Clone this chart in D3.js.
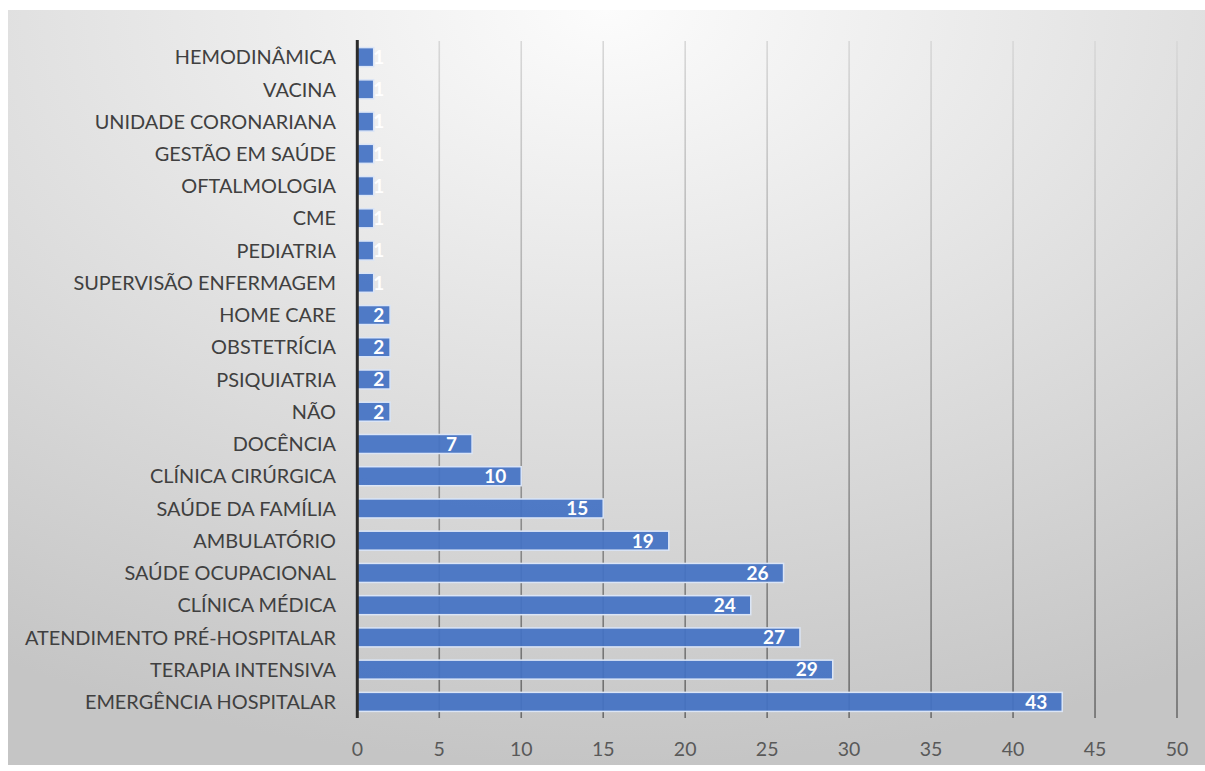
<!DOCTYPE html>
<html>
<head>
<meta charset="utf-8">
<script src="https://cdn.jsdelivr.net/npm/d3@7"></script>
<style>
  html, body { margin: 0; padding: 0; background: #ffffff; }
  svg { display: block; }
</style>
</head>
<body>
<svg id="chart" width="1205" height="771"></svg>
<script>
// Áreas de atuação (de cima para baixo) e número de respostas
const categories = [
  "HEMODINÂMICA", "VACINA", "UNIDADE CORONARIANA", "GESTÃO EM SAÚDE",
  "OFTALMOLOGIA", "CME", "PEDIATRIA", "SUPERVISÃO ENFERMAGEM",
  "HOME CARE", "OBSTETRÍCIA", "PSIQUIATRIA", "NÃO", "DOCÊNCIA",
  "CLÍNICA CIRÚRGICA", "SAÚDE DA FAMÍLIA", "AMBULATÓRIO",
  "SAÚDE OCUPACIONAL", "CLÍNICA MÉDICA", "ATENDIMENTO PRÉ-HOSPITALAR",
  "TERAPIA INTENSIVA", "EMERGÊNCIA HOSPITALAR"
];
const counts = [1, 1, 1, 1, 1, 1, 1, 1, 2, 2, 2, 2, 7, 10, 15, 19, 26, 24, 27, 29, 43];
const xTicks = [0, 5, 10, 15, 20, 25, 30, 35, 40, 45, 50];

const svg = d3.select("#chart");
const W = 1205, H = 771;
const panel = { x: 8, y: 10, w: W - 8, h: 755 };
const plot = { left: 357.3, right: 1177, top: 41, bottom: 718 };
const font = "Lato, 'Open Sans', sans-serif";

const defs = svg.append("defs");

// soft radial background, bright at the top centre
const bg = defs.append("radialGradient")
  .attr("id", "bgGrad").attr("cx", "50%").attr("cy", "0%").attr("r", "100%")
  .attr("fx", "50%").attr("fy", "0%");
bg.append("stop").attr("offset", "0").attr("stop-color", "#fcfcfc");
bg.append("stop").attr("offset", "0.45").attr("stop-color", "#e3e3e3");
bg.append("stop").attr("offset", "1").attr("stop-color", "#c5c5c5");

// gridlines fade toward the top
const gg = defs.append("linearGradient")
  .attr("id", "gridGrad").attr("gradientUnits", "userSpaceOnUse")
  .attr("x1", 0).attr("y1", plot.top).attr("x2", 0).attr("y2", plot.bottom);
gg.append("stop").attr("offset", "0").attr("stop-color", "#d8d8d8");
gg.append("stop").attr("offset", "1").attr("stop-color", "#6c6c6c");

svg.append("rect")
  .attr("x", panel.x).attr("y", panel.y)
  .attr("width", panel.w).attr("height", panel.h)
  .attr("fill", "url(#bgGrad)");

const x = d3.scaleLinear().domain([0, 50]).range([plot.left, plot.right]);
const y = d3.scaleBand().domain(categories)
  .range([plot.top, plot.bottom]).paddingInner(0.41).paddingOuter(0.205);

// vertical gridlines
svg.append("g").selectAll("line")
  .data(xTicks.filter(t => t > 0))
  .join("line")
  .attr("x1", d => x(d)).attr("x2", d => x(d))
  .attr("y1", plot.top).attr("y2", plot.bottom)
  .attr("stroke", "url(#gridGrad)").attr("stroke-width", 1.6);

// bars
svg.append("g").selectAll("rect")
  .data(categories)
  .join("rect")
  .attr("x", x(0))
  .attr("y", d => y(d))
  .attr("width", (d, i) => x(counts[i]) - x(0))
  .attr("height", y.bandwidth())
  .attr("fill", "#4472c4").attr("fill-opacity", 0.93)
  .attr("stroke", "#dbe5f6").attr("stroke-width", 1.5);

// category axis line
svg.append("line")
  .attr("x1", x(0)).attr("x2", x(0))
  .attr("y1", plot.top - 1).attr("y2", plot.bottom)
  .attr("stroke", "#2b2b2b").attr("stroke-width", 3);

// category labels
const catG = svg.append("g")
  .attr("font-family", font)
  .attr("font-size", 19.9).attr("fill", "#404040")
  .attr("text-anchor", "end");
catG.selectAll("text")
  .data(categories)
  .join("text")
  .attr("x", 336)
  .attr("y", d => y(d) + y.bandwidth() / 2)
  .attr("dy", "0.36em")
  .text(d => d);

// value axis tick labels
const tickG = svg.append("g")
  .attr("font-family", font)
  .attr("font-size", 19.5).attr("fill", "#595959")
  .attr("text-anchor", "middle");
tickG.selectAll("text")
  .data(xTicks)
  .join("text")
  .attr("x", d => x(d))
  .attr("y", 748.5)
  .attr("dy", "0.36em")
  .text(d => d);

// data labels, inside end
const valG = svg.append("g")
  .attr("font-family", font)
  .attr("font-size", 19).attr("font-weight", "bold").attr("fill", "#ffffff")
  .attr("text-anchor", "end");
valG.selectAll("text")
  .data(categories)
  .join("text")
  .attr("x", (d, i) => Math.max(x(counts[i]) - 15, x(0) + 27))
  .attr("y", d => y(d) + y.bandwidth() / 2)
  .attr("dy", "0.36em")
  .text((d, i) => counts[i]);
</script>
</body>
</html>
